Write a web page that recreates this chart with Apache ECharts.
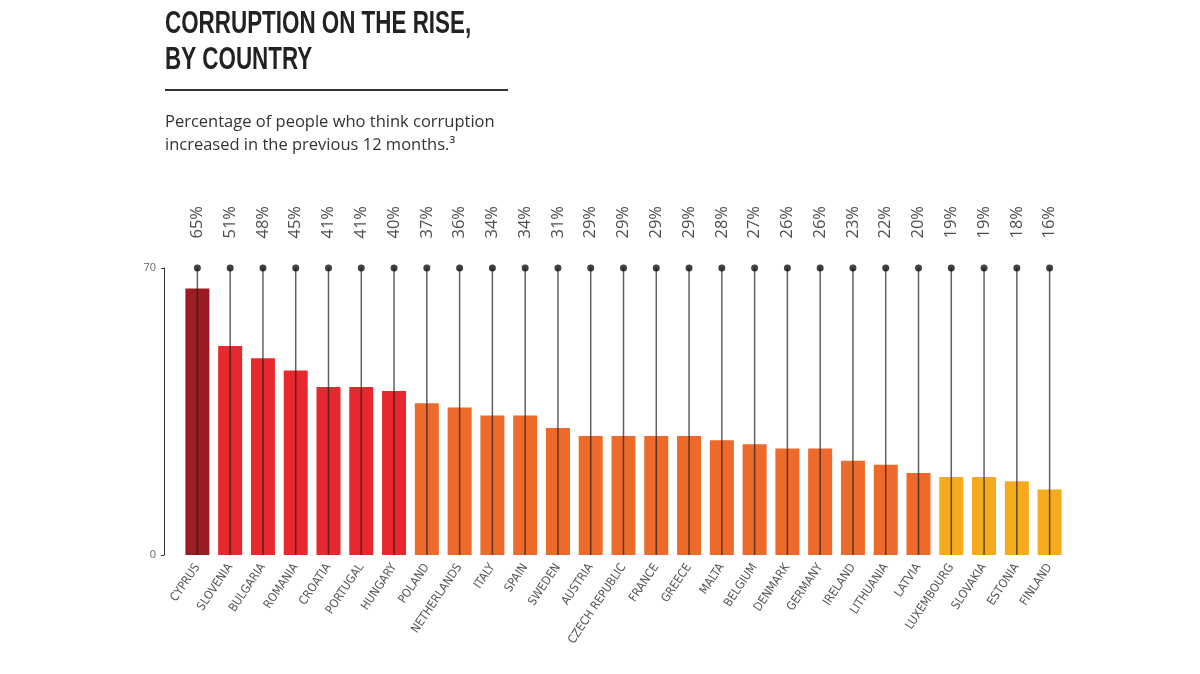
<!DOCTYPE html>
<html><head><meta charset="utf-8">
<script src="https://cdn.jsdelivr.net/npm/echarts@6/dist/echarts.min.js"></script>
<style>html,body{margin:0;padding:0;background:#fff}#c{width:1200px;height:674px}</style>
</head><body><div id="c"></div>
<script>
const countries = ["CYPRUS","SLOVENIA","BULGARIA","ROMANIA","CROATIA","PORTUGAL","HUNGARY","POLAND","NETHERLANDS","ITALY","SPAIN","SWEDEN","AUSTRIA","CZECH REPUBLIC","FRANCE","GREECE","MALTA","BELGIUM","DENMARK","GERMANY","IRELAND","LITHUANIA","LATVIA","LUXEMBOURG","SLOVAKIA","ESTONIA","FINLAND"];
const values = [65,51,48,45,41,41,40,37,36,34,34,31,29,29,29,29,28,27,26,26,23,22,20,19,19,18,16];
const groups = [0,1,1,1,1,1,1,2,2,2,2,2,2,2,2,2,2,2,2,2,2,2,2,3,3,3,3];
const groupColors = ["#9b1c22","#e8282f","#ee6a2b","#f6aa1e"];
const axisMax = 70;
const stemTop = countries.map(() => axisMax);

const chart = echarts.init(document.getElementById('c'));
chart.setOption({
  animation:false,
  backgroundColor:'#fff',
  graphic:[
    {type:'text',x:165,y:8,scaleX:0.70,
     style:{text:'CORRUPTION ON THE RISE,',font:'bold 32px "Liberation Sans",sans-serif',fill:'#222',textVerticalAlign:'top'}},
    {type:'text',x:165,y:44,scaleX:0.70,
     style:{text:'BY COUNTRY',font:'bold 32px "Liberation Sans",sans-serif',fill:'#222',textVerticalAlign:'top'}},
    {type:'line',shape:{x1:165,y1:90,x2:508,y2:90},style:{stroke:'#333',lineWidth:2}},
    {type:'text',x:165,y:114,
     style:{text:'Percentage of people who think corruption',font:'16.5px "Open Sans",sans-serif',fill:'#333',textVerticalAlign:'top'}},
    {type:'text',x:165,y:137,
     style:{text:'increased in the previous 12 months.³',font:'16.5px "Open Sans",sans-serif',fill:'#333',textVerticalAlign:'top'}}
  ],
  grid:{left:181,right:134,top:268,bottom:119},
  xAxis:[{
    type:'category',data:countries,
    axisLine:{show:false},axisTick:{show:false},
    axisLabel:{rotate:56,interval:0,margin:10,color:'#555',fontSize:12,fontFamily:'"Liberation Sans Narrow","DejaVu Sans Condensed",sans-serif'}
  },{
    type:'category',data:countries,show:false
  }],
  yAxis:{
    type:'value',min:0,max:axisMax,interval:70,offset:17,
    axisLine:{show:true,lineStyle:{color:'#333',width:1}},
    axisTick:{show:true,length:3,lineStyle:{color:'#333'}},
    axisLabel:{color:'#666',fontSize:11,margin:8,fontFamily:'"Open Sans",sans-serif'},
    splitLine:{show:false}
  },
  series:[{
    type:'bar',xAxisIndex:0,barWidth:24,
    data:values.map((v,i)=>({value:v,itemStyle:{color:groupColors[groups[i]]}})),
    z:2
  },{
    type:'bar',xAxisIndex:1,barWidth:1.5,
    data:stemTop,
    itemStyle:{color:'rgba(30,30,30,0.7)'},
    z:3
  },{
    type:'scatter',xAxisIndex:0,symbolSize:7,
    data:stemTop,
    itemStyle:{color:'#111'},
    label:{show:true,position:'top',distance:26,rotate:90,align:'left',verticalAlign:'middle',
      formatter:p=>values[p.dataIndex]+'%',
      color:'#222',fontSize:16.5,fontFamily:'"Open Sans",sans-serif'},
    z:4
  }]
});
</script></body></html>
